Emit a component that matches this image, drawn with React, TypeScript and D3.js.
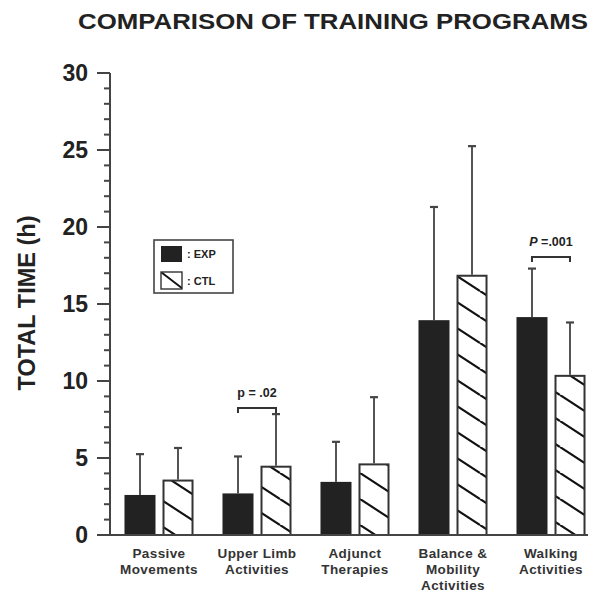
import React from "react";
import * as d3 from "d3";

const categories: string[][] = [
  ["Passive", "Movements"],
  ["Upper Limb", "Activities"],
  ["Adjunct", "Therapies"],
  ["Balance &", "Mobility", "Activities"],
  ["Walking", "Activities"],
];
const groups = ["EXP", "CTL"];
const expMean = [2.6, 2.7, 3.45, 13.95, 14.15];
const expSD = [2.65, 2.4, 2.6, 7.35, 3.15];
const ctlMean = [3.6, 4.5, 4.65, 16.9, 10.4];
const ctlSD = [2.05, 3.35, 4.3, 8.35, 3.4];
const yTicks = [0, 5, 10, 15, 20, 25, 30];
const minorTicks = d3.range(0, 31, 1);
const significance = [
  { cat: 1, level: 8.25, label: "p = .02", italicP: false },
  { cat: 4, level: 18.05, label: "P =.001", italicP: true },
];

const W = 592;
const H = 594;
const font = "'Liberation Sans', Arial, Helvetica, sans-serif";

export default function App() {
  const y = d3.scaleLinear().domain([0, 30]).range([535, 73]);
  const x = d3
    .scaleBand<number>()
    .domain(d3.range(categories.length))
    .range([110, 600])
    .padding(0);
  const sub = d3
    .scaleBand<string>()
    .domain(groups)
    .range([0, x.bandwidth()])
    .paddingInner(7 / 38)
    .paddingOuter(0.381);
  const bw = sub.bandwidth();
  const capW = 8;
  const series = [
    { key: "EXP", mean: expMean, sd: expSD },
    { key: "CTL", mean: ctlMean, sd: ctlSD },
  ];

  return (
    <svg width={W} height={H} style={{ display: "block", position: "absolute", left: 0, top: 0 }}>
      <defs>
        <pattern id="hatch" patternUnits="userSpaceOnUse" width={40} height={26} x={0} y={5}>
          <line x1={0} y1={0} x2={40} y2={26} stroke="#111" strokeWidth={2.2} />
          <line x1={-40} y1={0} x2={0} y2={26} stroke="#111" strokeWidth={2.2} />
          <line x1={0} y1={-26} x2={40} y2={0} stroke="#111" strokeWidth={2.2} />
          <line x1={40} y1={26} x2={80} y2={52} stroke="#111" strokeWidth={2.2} />
        </pattern>
        <pattern id="hatchLegend" patternUnits="userSpaceOnUse" width={22} height={17} x={161} y={272}>
          <line x1={0} y1={0} x2={22} y2={17} stroke="#111" strokeWidth={1.8} />
        </pattern>
      </defs>
      <rect width={W} height={H} fill="#fff" />

      {/* title */}
      <text
        x={78}
        y={29}
        fontFamily={font}
        fontWeight="bold"
        fontSize={22}
        fill="#222"
        textLength={510}
        lengthAdjust="spacingAndGlyphs"
      >
        COMPARISON OF TRAINING PROGRAMS
      </text>

      {/* y axis title */}
      <text
        transform={`translate(35,${303}) rotate(-90)`}
        textAnchor="middle"
        fontFamily={font}
        fontWeight="bold"
        fontSize={23.5}
        fill="#222"
      >
        TOTAL TIME (h)
      </text>

      {/* y axis */}
      <line x1={110} x2={110} y1={y(30)} y2={y(0)} stroke="#444" strokeWidth={2} />
      {minorTicks.map((t) => (
        <line
          key={"m" + t}
          x1={t % 5 === 0 ? 97 : 104}
          x2={110}
          y1={y(t)}
          y2={y(t)}
          stroke="#444"
          strokeWidth={2}
        />
      ))}
      {yTicks.map((t) => (
        <text
          key={"t" + t}
          x={88}
          y={y(t) + 8}
          textAnchor="end"
          fontFamily={font}
          fontWeight="bold"
          fontSize={23}
          fill="#222"
        >
          {t}
        </text>
      ))}

      {/* bars */}
      {series.map((s) =>
        s.mean.map((m, i) => {
          const bx = (x(i) as number) + (sub(s.key) as number);
          const cx = bx + bw / 2;
          const top = y(m);
          const errTop = y(m + s.sd[i]);
          return (
            <g key={s.key + i}>
              <line x1={cx} x2={cx} y1={top} y2={errTop} stroke="#555" strokeWidth={2} />
              <line x1={cx - capW / 2} x2={cx + capW / 2} y1={errTop} y2={errTop} stroke="#444" strokeWidth={2.2} />
              {s.key === "EXP" ? (
                <rect x={bx} y={top} width={bw} height={y(0) - top} fill="#222" />
              ) : (
                <rect
                  x={bx + 1}
                  y={top + 1}
                  width={bw - 2}
                  height={y(0) - top - 1}
                  fill="url(#hatch)"
                  stroke="#333"
                  strokeWidth={2}
                />
              )}
            </g>
          );
        })
      )}

      {/* x axis */}
      <line x1={109} x2={588} y1={y(0)} y2={y(0)} stroke="#444" strokeWidth={2} />

      {/* category labels */}
      {categories.map((lines, i) => (
        <text
          key={"c" + i}
          textAnchor="middle"
          fontFamily={font}
          fontWeight="bold"
          fontSize={13.5}
          fill="#333"
          letterSpacing={0.4}
        >
          {lines.map((l, j) => (
            <tspan key={j} x={(x(i) as number) + x.bandwidth() / 2} y={558 + j * 16}>
              {l}
            </tspan>
          ))}
        </text>
      ))}

      {/* significance brackets */}
      {significance.map((s) => {
        const x1 = (x(s.cat) as number) + (sub("EXP") as number) + bw / 2;
        const x2 = (x(s.cat) as number) + (sub("CTL") as number) + bw / 2;
        const by = y(s.level);
        const mid = (x1 + x2) / 2;
        return (
          <g key={"s" + s.cat}>
            <path
              d={`M${x1},${by + 5}V${by}H${x2}V${by + 5}`}
              fill="none"
              stroke="#333"
              strokeWidth={2}
            />
            <text
              x={mid}
              y={by - 11}
              textAnchor="middle"
              fontFamily={font}
              fontWeight="bold"
              fontSize={12.5}
              fill="#222"
            >
              {s.italicP ? (
                <>
                  <tspan fontStyle="italic">P</tspan>
                  {s.label.slice(1)}
                </>
              ) : (
                s.label
              )}
            </text>
          </g>
        );
      })}

      {/* legend */}
      <rect x={154} y={240} width={79} height={53} fill="#fff" stroke="#444" strokeWidth={1.6} />
      <rect x={161} y={246} width={21} height={16} fill="#222" />
      <text x={187} y={258} fontFamily={font} fontWeight="bold" fontSize={11} fill="#222">
        : EXP
      </text>
      <rect x={161} y={272} width={21} height={17} fill="url(#hatchLegend)" stroke="#333" strokeWidth={1.4} />
      <text x={187} y={285} fontFamily={font} fontWeight="bold" fontSize={11} fill="#222">
        : CTL
      </text>
    </svg>
  );
}
